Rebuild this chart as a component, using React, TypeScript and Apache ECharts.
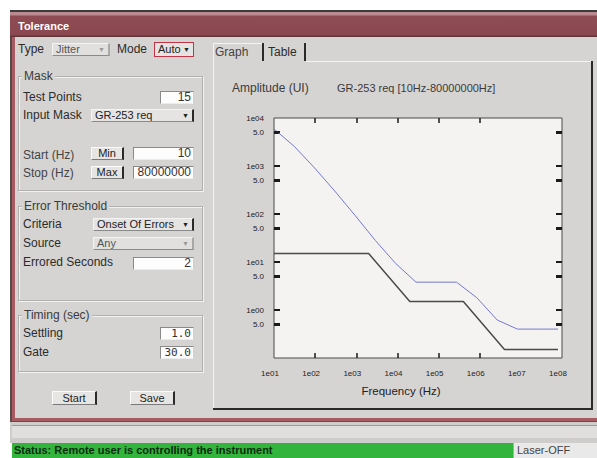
import React, { useEffect, useRef } from "react";
import * as echarts from "echarts";

// ---- chart data ----
const maskFreqHz = [10, 2000, 20000, 400000, 4000000, 80000000];
const maskAmpUI = [15, 15, 1.5, 1.5, 0.15, 0.15];
const testFreqHz = [10, 31, 97, 301, 938, 2920, 9080, 28250, 87900, 273500, 851000, 2650000, 8240000, 25650000, 80000000];
const testAmpUI = [5900, 2570, 910, 300, 93, 28, 9.3, 3.8, 3.8, 3.8, 1.8, 0.62, 0.4, 0.4, 0.4];
const xLabelHz = [1e1, 1e2, 1e3, 1e4, 1e5, 1e6, 1e7, 1e8];
const xTickHz = [1e2, 1e3, 1e4, 1e5, 1e6];
const yDecadeUI = [1, 10, 100, 1000, 10000];
const yHalfUI = [0.5, 5, 50, 500, 5000];
const chartTitle = "Amplitude (UI)";
const maskTitle = "GR-253 req [10Hz-80000000Hz]";
const xName = "Frequency (Hz)";

const FONT = '"Liberation Sans", Arial, Helvetica, sans-serif';
const BODY = "#d6d4d2";
const lg = (v: number) => Math.log10(v);

function decadeLabel(v: number) {
  const r = Math.round(v);
  if (Math.abs(v - r) < 1e-6) {
    return "1e" + (r < 0 ? "-" : "") + String(Math.abs(r)).padStart(2, "0");
  }
  return "5.0";
}

function Chart() {
  const ref = useRef<HTMLDivElement>(null);
  useEffect(() => {
    const chart = echarts.init(ref.current!, null, { renderer: "svg" });
    const yTicks = [...yDecadeUI.slice(0, 4), ...yHalfUI].map(lg).sort((a, b) => a - b);
    const yLabels = [...yDecadeUI, ...yHalfUI].map(lg).sort((a, b) => a - b);
    const xTicks = xTickHz.map(lg);
    const xMin = lg(xLabelHz[0]);
    const xMax = lg(xLabelHz[xLabelHz.length - 1]);
    const tickStyle = { color: "#1a1a1a", width: 1.5 };
    const xBase = {
      type: "value",
      min: xMin,
      max: xMax,
      interval: 1,
      axisLine: { show: false, onZero: false },
      axisTick: { show: true, inside: true, length: 5, customValues: xTicks, lineStyle: tickStyle },
      splitLine: { show: false },
    };
    const yBase = {
      type: "value",
      min: -1,
      max: 4,
      interval: 1,
      axisLine: { show: false, onZero: false },
      axisTick: { show: true, inside: true, length: 6, customValues: yTicks, lineStyle: { color: "#1a1a1a", width: 2 } },
      splitLine: { show: false },
    };
    const titles = [
      { id: "t1", type: "text", left: 19, top: 21, style: { text: chartTitle, fill: "#3a3a3a", font: `12px ${FONT}` } },
      { id: "t2", type: "text", left: 124, top: 21, style: { text: maskTitle, fill: "#3a3a3a", font: `11px ${FONT}` } },
    ];
    chart.setOption({
      animation: false,
      backgroundColor: "transparent",
      textStyle: { fontFamily: FONT },
      grid: {
        left: 61,
        top: 57,
        width: 288,
        height: 240,
        show: true,
        backgroundColor: "#f4f3f2",
        borderColor: "#4a4a4a",
        borderWidth: 1,
      },
      graphic: titles,
      xAxis: [
        {
          ...xBase,
          position: "bottom",
          axisLabel: {
            fontSize: 8,
            color: "#222",
            margin: 11,
            padding: [0, 8, 0, 0],
            formatter: (v: number) => decadeLabel(v),
          },
          name: xName,
          nameLocation: "middle",
          nameGap: 27,
          nameTextStyle: { fontSize: 11.5, color: "#222", padding: [0, 34, 0, 0] },
        },
        {
          ...xBase,
          position: "top",
          axisLabel: { show: false },
        },
      ],
      yAxis: [
        {
          ...yBase,
          position: "left",
          axisLabel: {
            customValues: yLabels,
            fontSize: 8,
            color: "#222",
            margin: 10,
            padding: [0, 0, 5, 0],
            formatter: (v: number) => decadeLabel(v),
          },
        },
        {
          ...yBase,
          position: "right",
          axisLabel: { show: false },
        },
      ],
      series: [
        {
          type: "line",
          name: "Mask",
          xAxisIndex: 0,
          yAxisIndex: 0,
          symbol: "none",
          data: maskFreqHz.map((f, i) => [lg(f), lg(maskAmpUI[i])]),
          lineStyle: { color: "#4a4a4a", width: 1.5 },
        },
        {
          type: "line",
          name: "Tolerance",
          xAxisIndex: 0,
          yAxisIndex: 0,
          symbol: "none",
          data: testFreqHz.map((f, i) => [lg(f), lg(testAmpUI[i])]),
          lineStyle: { color: "#7479cc", width: 1 },
        },
      ],
    });
    // y-axis tick marks on both sides, placed through the axis scale
    const pxL = Math.round(chart.convertToPixel({ xAxisIndex: 0 }, xMin) as number);
    const pxR = Math.round(chart.convertToPixel({ xAxisIndex: 0 }, xMax) as number);
    const tickEls: any[] = [];
    yTicks.forEach((v, i) => {
      const py = Math.round(chart.convertToPixel({ yAxisIndex: 0 }, v) as number);
      if (!isFinite(py) || !isFinite(pxL)) return;
      tickEls.push({ id: "yl" + i, type: "rect", silent: true, z: 100, shape: { x: pxL, y: py - 1, width: 6, height: 2 }, style: { fill: "#1a1a1a" } });
      tickEls.push({ id: "yr" + i, type: "rect", silent: true, z: 100, shape: { x: pxR - 6, y: py - 1, width: 6, height: 2 }, style: { fill: "#1a1a1a" } });
    });
    chart.setOption({ graphic: [...titles, ...tickEls] });
    return () => chart.dispose();
  }, []);
  return <div ref={ref} style={{ position: "absolute", left: 213, top: 61, width: 378, height: 347 }} />;
}

const Txt = ({ x, cy, children, style }: any) => (
  <div
    style={{
      position: "absolute",
      left: x,
      top: cy - 7,
      height: 14,
      lineHeight: "14px",
      fontSize: 12,
      color: "#2b2b2b",
      whiteSpace: "nowrap",
      ...style,
    }}
  >
    {children}
  </div>
);

const Field = ({ x, y, w, h, value, mono }: any) => (
  <div
    style={{
      position: "absolute",
      left: x,
      top: y,
      width: w,
      height: h,
      boxSizing: "border-box",
      background: "#fdfdfd",
      borderTop: "1px solid #8a8a8a",
      borderLeft: "1px solid #8a8a8a",
      borderRight: "1px solid #cfcfcf",
      borderBottom: "1px solid #ececec",
      textAlign: "right",
      paddingRight: 2,
      fontSize: mono ? 11 : 12,
      fontFamily: mono ? '"DejaVu Sans Mono", monospace' : FONT,
      lineHeight: `${h - 2}px`,
      color: "#333",
      whiteSpace: "nowrap",
      overflow: "hidden",
    }}
  >
    {value}
  </div>
);

const Button = ({ x, y, w, h, label }: any) => (
  <div
    style={{
      position: "absolute",
      left: x,
      top: y,
      width: w,
      height: h,
      boxSizing: "border-box",
      background: "#e7e5e3",
      borderTop: "1px solid #fafafa",
      borderLeft: "1px solid #fafafa",
      borderRight: "2px solid #2a2a2a",
      borderBottom: "1px solid #7a7a7a",
      textAlign: "center",
      fontSize: 11,
      lineHeight: `${h - 2}px`,
      color: "#222",
    }}
  >
    {label}
  </div>
);

const Combo = ({ x, y, w, h, label, disabled, focused }: any) => (
  <div
    style={{
      position: "absolute",
      left: x,
      top: y,
      width: w,
      height: h,
      boxSizing: "border-box",
      background: disabled ? "#e2e0de" : "#e6e4e2",
      borderTop: focused ? "1px solid #c23347" : "1px solid #f4f4f4",
      borderLeft: focused ? "1px solid #c23347" : "1px solid #f4f4f4",
      borderRight: focused ? "1px solid #c23347" : `2px solid ${disabled ? "#a8a8a8" : "#2a2a2a"}`,
      borderBottom: focused ? "1px solid #c23347" : "1px solid #8a8a8a",
      fontSize: 11,
      lineHeight: `${h - 2}px`,
      color: disabled ? "#555" : "#222",
      paddingLeft: 3,
      whiteSpace: "nowrap",
    }}
  >
    {label}
    <span
      style={{
        position: "absolute",
        right: 3,
        top: 0,
        fontSize: 7,
        color: disabled ? "#999" : "#222",
      }}
    >
      ▼
    </span>
  </div>
);

const Group = ({ x, y, w, h, label }: any) => (
  <div
    style={{
      position: "absolute",
      left: x,
      top: y,
      width: w,
      height: h,
      boxSizing: "border-box",
      border: "1px solid #b3b1af",
      boxShadow: "inset 1px 1px 0 #f2f2f2, 1px 1px 0 #f2f2f2",
    }}
  >
    <span
      style={{
        position: "absolute",
        left: 3,
        top: -8,
        background: BODY,
        padding: "0 2px",
        fontSize: 12,
        lineHeight: "14px",
        color: "#3a3a3a",
        whiteSpace: "nowrap",
      }}
    >
      {label}
    </span>
  </div>
);

const Box = ({ x, y, w, h, style }: any) => (
  <div style={{ position: "absolute", left: x, top: y, width: w, height: h, ...style }} />
);

export default function App() {
  return (
    <div
      style={{
        position: "fixed",
        left: 0,
        top: 0,
        width: 597,
        height: 458,
        background: "#ffffff",
        overflow: "hidden",
        fontFamily: FONT,
      }}
    >
      {/* window frame */}
      <Box x={10} y={10} w={587} h={2} style={{ background: "#3c3c3c" }} />
      <Box
        x={10}
        y={12}
        w={587}
        h={25}
        style={{
          background:
            "linear-gradient(#b98a8f 0px, #b98a8f 3px, #8f4b53 4px, #8c4850 23px, #5e3438 24px)",
        }}
      />
      <Txt x={18} cy={26} style={{ color: "#fff", fontWeight: "bold", fontSize: 11 }}>
        Tolerance
      </Txt>
      <Box x={10} y={37} w={587} h={381} style={{ background: BODY }} />
      <Box x={10} y={37} w={2} h={385} style={{ background: "#5a4a4a" }} />
      <Box x={12} y={37} w={3} h={384} style={{ background: "#a65a62" }} />
      <Box x={12} y={418} w={585} h={3} style={{ background: "#a65a62" }} />
      <Box x={10} y={421} w={587} h={1} style={{ background: "#6a4a4a" }} />

      {/* top row */}
      <Txt x={18} cy={49}>Type</Txt>
      <Combo x={52} y={43} w={58} h={13} label="Jitter" disabled />
      <Txt x={117} cy={49}>Mode</Txt>
      <Combo x={154} y={42} w={40} h={15} label="Auto" focused />

      {/* Mask group */}
      <Group x={18} y={76} w={185} h={115} label="Mask" />
      <Txt x={23} cy={97}>Test Points</Txt>
      <Field x={160} y={91} w={34} h={13} value="15" />
      <Txt x={23} cy={115}>Input Mask</Txt>
      <Combo x={91} y={109} w={103} h={13} label="GR-253 req" />
      <Txt x={23} cy={155} style={{ color: "#444" }}>Start (Hz)</Txt>
      <Button x={91} y={147} w={33} h={13} label="Min" />
      <Field x={133} y={147} w={61} h={13} value="10" />
      <Txt x={23} cy={173} style={{ color: "#444" }}>Stop (Hz)</Txt>
      <Button x={91} y={166} w={33} h={13} label="Max" />
      <Field x={133} y={166} w={61} h={13} value="80000000" />

      {/* Error Threshold group */}
      <Group x={18} y={206} w={185} h={95} label="Error Threshold" />
      <Txt x={23} cy={224}>Criteria</Txt>
      <Combo x={93} y={218} w={101} h={13} label="Onset Of Errors" />
      <Txt x={23} cy={243}>Source</Txt>
      <Combo x={93} y={237} w={101} h={13} label="Any" disabled />
      <Txt x={23} cy={262}>Errored Seconds</Txt>
      <Field x={133} y={257} w={61} h={13} value="2" />

      {/* Timing group */}
      <Group x={18} y={315} w={185} h={57} label="Timing (sec)" />
      <Txt x={23} cy={333}>Settling</Txt>
      <Field x={160} y={327} w={34} h={13} value="1.0" mono />
      <Txt x={23} cy={352}>Gate</Txt>
      <Field x={160} y={346} w={34} h={13} value="30.0" mono />

      <Button x={52} y={391} w={45} h={14} label="Start" />
      <Button x={130} y={391} w={45} h={14} label="Save" />

      {/* tabs + graph panel */}
      <Box x={213} y={43} w={49} h={18} style={{ borderTop: "1px solid #f4f4f4", borderLeft: "1px solid #f4f4f4", boxSizing: "border-box" }} />
      <Box x={262} y={43} w={2} h={18} style={{ background: "#2a2a2a" }} />
      <Box x={304} y={43} w={2} h={18} style={{ background: "#2a2a2a" }} />
      <Txt x={215} cy={52} style={{ color: "#444" }}>Graph</Txt>
      <Txt x={268} cy={52}>Table</Txt>
      <Box x={213} y={61} w={1} h={347} style={{ background: "#f4f4f4" }} />
      <Box x={306} y={61} w={285} h={1} style={{ background: "#f4f4f4" }} />
      <Box x={591} y={61} w={2} h={349} style={{ background: "#2a2a2a" }} />
      <Box x={213} y={408} w={380} h={2} style={{ background: "#2a2a2a" }} />
      <Chart />

      {/* status area */}
      <Box x={10} y={422} w={587} h={21} style={{ background: "#cfcdcb" }} />
      <Box x={12} y={425} w={585} h={13} style={{ background: "#e1dfdd", borderTop: "1px solid #9a9a9a", boxSizing: "border-box" }} />
      <Box x={12} y={443} w={501} h={15} style={{ background: "#33b43d" }} />
      <Txt x={14} cy={450} style={{ fontSize: 11, fontWeight: "bold", color: "#0c2c10" }}>
        Status: Remote user is controlling the instrument
      </Txt>
      <Box x={513} y={443} w={84} h={15} style={{ background: "#e9e9e9", borderLeft: "1px solid #aaa", boxSizing: "border-box" }} />
      <Txt x={517} cy={450} style={{ fontSize: 11, color: "#444" }}>Laser-OFF</Txt>
    </div>
  );
}
